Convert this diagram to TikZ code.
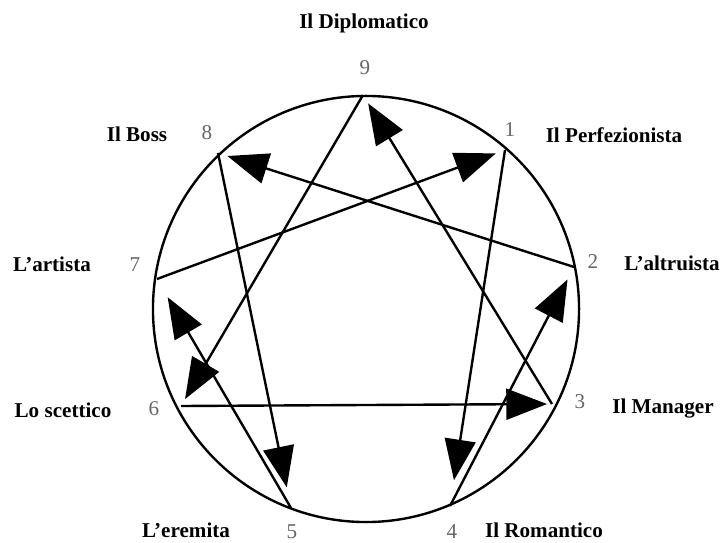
\documentclass[tikz,border=0pt]{standalone}
\usepackage{fontspec}
\setmainfont{Liberation Serif}
\usetikzlibrary{arrows.meta}

\begin{document}
\begin{tikzpicture}[
    x=0.025cm, y=-0.025cm,
    line/.style={line width=1.7pt, black},
    arrowline/.style={line, -{Triangle[length=29pt, width=22pt]}, shorten >=#1},
    typenumber/.style={font=\fontsize{15}{17}\selectfont, text=black!60},
    typename/.style={font=\fontsize{15}{17}\selectfont\bfseries}
]
\useasboundingbox (0,0) rectangle (728,543);
\fill[white] (0,0) rectangle (728,543);

% circle and the nine points
\draw[line] (366,309) circle[radius=5.325cm];
\coordinate (p9) at (363,95);
\coordinate (p1) at (505,150);
\coordinate (p2) at (574,267);
\coordinate (p3) at (552,404);
\coordinate (p4) at (450,506);
\coordinate (p5) at (291,508);
\coordinate (p6) at (181,406);
\coordinate (p7) at (157,279);
\coordinate (p8) at (218,153);

% connections
\draw[arrowline=7pt] (p3) -- (p9);
\draw[arrowline=5.7pt] (p9) -- (p6);
\draw[arrowline=3.5pt] (p6) -- (p3);
\draw[arrowline=18.5pt] (p1) -- (p4);
\draw[arrowline=10pt] (p4) -- (p2);
\draw[arrowline=7pt] (p2) -- (p8);
\draw[arrowline=15pt] (p8) -- (p5);
\draw[arrowline=15pt] (p5) -- (p7);
\draw[arrowline=7pt] (p7) -- (p1);

% numbers
\node[typenumber] (n9) at (365,68) {9};
\node[typenumber] (n1) at (510,130) {1};
\node[typenumber] (n2) at (593,262) {2};
\node[typenumber] (n3) at (580,402) {3};
\node[typenumber] (n4) at (452,532) {4};
\node[typenumber] (n5) at (292,532) {5};
\node[typenumber] (n6) at (154,409) {6};
\node[typenumber] (n7) at (135,265) {7};
\node[typenumber] (n8) at (207,133) {8};

% names
\node[typename] (diplomatico) at (364,23) {Il Diplomatico};
\node[typename] (perfezionista) at (614,135) {Il Perfezionista};
\node[typename] (altruista) at (672,263) {L'altruista};
\node[typename] (manager) at (663,409) {Il Manager};
\node[typename] (romantico) at (544,530) {Il Romantico};
\node[typename] (eremita) at (186,530) {L'eremita};
\node[typename] (scettico) at (63,410) {Lo scettico};
\node[typename] (artista) at (52,264) {L'artista};
\node[typename] (boss) at (137,134) {Il Boss};
\end{tikzpicture}
\end{document}
